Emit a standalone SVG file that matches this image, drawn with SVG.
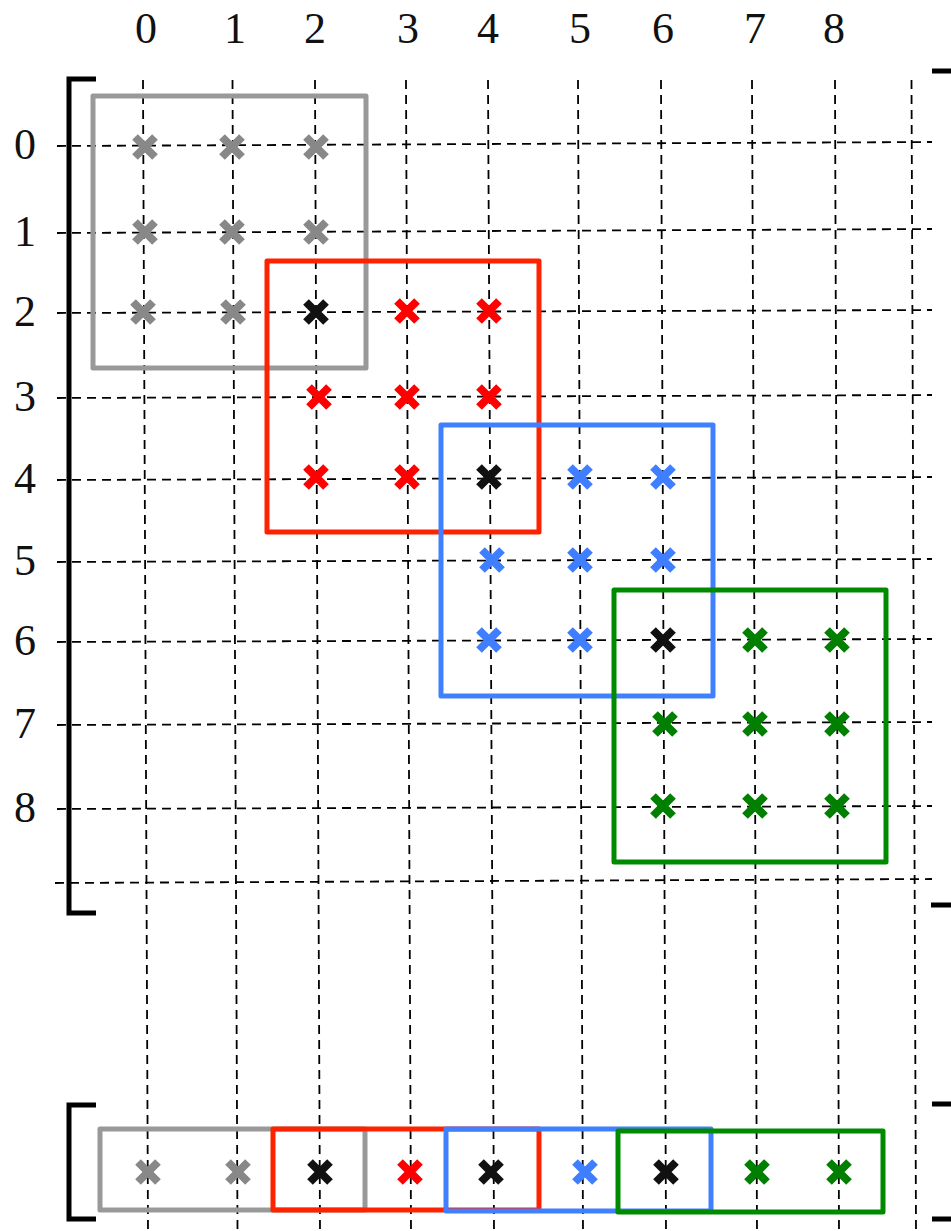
<svg xmlns="http://www.w3.org/2000/svg" width="951" height="1231" viewBox="0 0 951 1231">
<style>
.grid line{stroke:#000;stroke-width:1.8;stroke-dasharray:9 6;fill:none}
.lbl{font-family:"Liberation Serif","Times New Roman",serif;font-size:44px;fill:#111;text-anchor:middle}
.br{stroke:#000;stroke-width:5;fill:none;stroke-linecap:butt;stroke-linejoin:miter}
.box{fill:none;stroke-width:5;stroke-linejoin:round}
.gb{stroke:#999999}.rb{stroke:#ff2200}.bb{stroke:#4080ff}.ggb{stroke:#008a00}
.x{stroke-width:8;fill:none;stroke-linecap:butt}
.xg{stroke:#888888}.xr{stroke:#ff0000}.xb{stroke:#3f7fff}.xgr{stroke:#007f00}.xk{stroke:#111111}
</style>
<defs>
<path id="x" d="M-10,-10L10,10M10,-10L-10,10"/>
</defs>
<rect width="951" height="1231" fill="#ffffff"/>
<g id="labels">
<text class="lbl" x="146" y="43">0</text>
<text class="lbl" x="235" y="43">1</text>
<text class="lbl" x="315" y="43">2</text>
<text class="lbl" x="408" y="43">3</text>
<text class="lbl" x="488" y="43">4</text>
<text class="lbl" x="580" y="43">5</text>
<text class="lbl" x="663" y="43">6</text>
<text class="lbl" x="755" y="43">7</text>
<text class="lbl" x="834" y="43">8</text>
<text class="lbl" x="25" y="159">0</text>
<text class="lbl" x="25" y="246">1</text>
<text class="lbl" x="25" y="326">2</text>
<text class="lbl" x="25" y="411">3</text>
<text class="lbl" x="25" y="493">4</text>
<text class="lbl" x="25" y="575">5</text>
<text class="lbl" x="25" y="655">6</text>
<text class="lbl" x="25" y="738">7</text>
<text class="lbl" x="25" y="822">8</text>
</g>
<g id="connectors" class="grid">
<line x1="143" y1="80" x2="148" y2="1231"/>
<line x1="232.5" y1="80" x2="237.5" y2="1231"/>
<line x1="315" y1="80" x2="320" y2="1231"/>
<line x1="406" y1="80" x2="411" y2="1231"/>
<line x1="488" y1="80" x2="494" y2="1231"/>
<line x1="578" y1="80" x2="583" y2="1231"/>
<line x1="661" y1="80" x2="666" y2="1231"/>
<line x1="752" y1="80" x2="757" y2="1231"/>
<line x1="835" y1="80" x2="839" y2="1231"/>
<line x1="911.5" y1="80" x2="916" y2="1231"/>
<line x1="57" y1="146" x2="932" y2="142"/>
<line x1="57" y1="233" x2="932" y2="229"/>
<line x1="57" y1="313" x2="932" y2="310"/>
<line x1="57" y1="398" x2="932" y2="395"/>
<line x1="57" y1="480" x2="932" y2="477"/>
<line x1="57" y1="562" x2="932" y2="559"/>
<line x1="57" y1="642" x2="932" y2="639"/>
<line x1="57" y1="725" x2="932" y2="722"/>
<line x1="57" y1="809" x2="932" y2="806"/>
<line x1="55" y1="883" x2="932" y2="879"/>
</g>
<g id="brackets">
<path class="br" d="M96,79H69V913H96"/>
<path class="br" d="M932,71H951M931,905H951"/>
<path class="br" d="M96,1105H69V1219H96"/>
<path class="br" d="M932,1104H951M932,1219H951"/>
</g>
<g id="gray-block">
<rect class="box gb" x="93" y="96" width="273" height="272"/>
<use href="#x" class="x xg" x="145" y="147"/>
<use href="#x" class="x xg" x="232" y="147"/>
<use href="#x" class="x xg" x="316" y="147"/>
<use href="#x" class="x xg" x="145" y="232"/>
<use href="#x" class="x xg" x="232" y="232"/>
<use href="#x" class="x xg" x="316" y="232"/>
<use href="#x" class="x xg" x="143" y="312"/>
<use href="#x" class="x xg" x="233" y="312"/>
</g>
<g id="red-block">
<rect class="box rb" x="267" y="261" width="272" height="271"/>
<use href="#x" class="x xr" x="407" y="311"/>
<use href="#x" class="x xr" x="489" y="311"/>
<use href="#x" class="x xr" x="319" y="397"/>
<use href="#x" class="x xr" x="407" y="397"/>
<use href="#x" class="x xr" x="489" y="397"/>
<use href="#x" class="x xr" x="316" y="477"/>
<use href="#x" class="x xr" x="407" y="477"/>
</g>
<g id="blue-block">
<rect class="box bb" x="441" y="425" width="272" height="271"/>
<use href="#x" class="x xb" x="580" y="477"/>
<use href="#x" class="x xb" x="663" y="477"/>
<use href="#x" class="x xb" x="492" y="560"/>
<use href="#x" class="x xb" x="580" y="560"/>
<use href="#x" class="x xb" x="663" y="560"/>
<use href="#x" class="x xb" x="489" y="640"/>
<use href="#x" class="x xb" x="580" y="640"/>
</g>
<g id="green-block">
<rect class="box ggb" x="614" y="590" width="272" height="272"/>
<use href="#x" class="x xgr" x="755" y="640"/>
<use href="#x" class="x xgr" x="837" y="640"/>
<use href="#x" class="x xgr" x="665" y="724"/>
<use href="#x" class="x xgr" x="755" y="724"/>
<use href="#x" class="x xgr" x="837" y="724"/>
<use href="#x" class="x xgr" x="663" y="806"/>
<use href="#x" class="x xgr" x="755" y="806"/>
<use href="#x" class="x xgr" x="837" y="806"/>
</g>
<g id="shared-points">
<use href="#x" class="x xk" x="316" y="312"/>
<use href="#x" class="x xk" x="489" y="477"/>
<use href="#x" class="x xk" x="663" y="640"/>
</g>
<g id="strip">
<rect class="box gb" x="100" y="1129" width="265" height="81"/>
<rect class="box rb" x="273" y="1129" width="266" height="81"/>
<rect class="box bb" x="446" y="1129" width="265" height="82"/>
<rect class="box ggb" x="618" y="1131" width="265" height="81"/>
<use href="#x" class="x xg" x="148" y="1172"/>
<use href="#x" class="x xg" x="238" y="1172"/>
<use href="#x" class="x xk" x="320" y="1172"/>
<use href="#x" class="x xr" x="410" y="1172"/>
<use href="#x" class="x xk" x="491" y="1172"/>
<use href="#x" class="x xb" x="585" y="1172"/>
<use href="#x" class="x xk" x="666" y="1172"/>
<use href="#x" class="x xgr" x="757" y="1172"/>
<use href="#x" class="x xgr" x="839" y="1172"/>
</g>
</svg>
